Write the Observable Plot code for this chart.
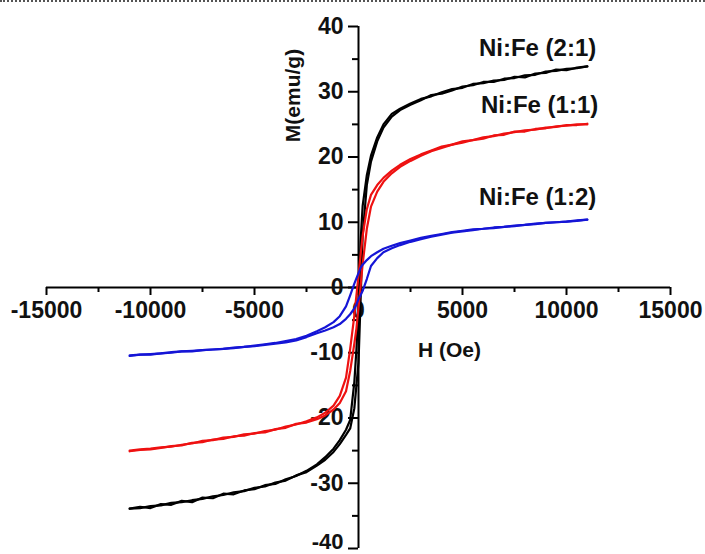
<!DOCTYPE html>
<html><head><meta charset="utf-8">
<script src="https://cdn.jsdelivr.net/npm/d3@7"></script>
<script src="https://cdn.jsdelivr.net/npm/@observablehq/plot@0.6"></script>
<style>
body{margin:0;background:#fff;}
#wrap{position:relative;width:705px;height:554px;overflow:hidden;}
#border{position:absolute;left:0;top:0;width:705px;border-top:2px dotted #555;z-index:2;}
svg{display:block;}
</style></head><body><div id="wrap"><div id="border"></div></div>
<script>
// Applied field H (Oe)
const H = [-11000,-10500,-10000,-9500,-9000,-8500,-8000,-7500,-7000,-6500,-6000,-5500,-5000,-4500,-4000,-3500,-3000,-2500,-2000,
  -1600,-1200,-900,-600,-400,-200,-100,0,100,200,400,600,900,1200,1600,
  2000,2500,3000,3500,4000,4500,5000,5500,6000,6500,7000,7500,8000,8500,9000,9500,10000,10500,11000];

// Ni:Fe (2:1) — descending (upper) and ascending (lower) branches, M (emu/g)
const black21Down = [-33.9,-33.6,-33.8,-33.2,-33.3,-32.7,-32.9,-32.2,-32.3,-31.6,-31.7,-31.1,-30.9,-30.3,-30.1,-29.4,-28.9,-28.1,-27.1,
  -26.0,-24.7,-23.4,-21.8,-20.3,-14.5,-9.5,-3.0,7.0,12.5,17.2,20.2,23.0,25.0,26.6,
  27.4,28.2,28.9,29.3,29.9,30.4,30.6,31.2,31.3,31.7,31.8,32.3,32.2,32.8,32.9,33.4,33.3,33.7,33.9];
const black21Up = [-33.9,-33.8,-33.5,-33.4,-33.0,-32.9,-32.6,-32.4,-32.0,-31.8,-31.4,-31.2,-30.7,-30.5,-29.9,-29.6,-28.8,-28.3,-27.3,
  -26.4,-25.2,-24.0,-22.6,-21.6,-18.5,-15.0,-11.5,-2.0,8.0,15.7,19.3,22.4,24.5,26.2,
  27.2,28.0,28.7,29.5,29.7,30.2,30.8,31.0,31.5,31.5,32.0,32.1,32.5,32.6,33.1,33.2,33.5,33.6,33.9];

// Ni:Fe (1:1)
const red11Down = [-25.0,-24.8,-24.7,-24.5,-24.4,-24.1,-23.9,-23.5,-23.4,-23.0,-22.9,-22.5,-22.4,-22.0,-21.8,-21.3,-21.0,-20.5,-19.9,
  -19.2,-18.1,-16.6,-13.8,-9.4,-4.3,-1.2,1.8,5.0,7.9,12.0,14.2,15.7,16.8,17.9,
  18.8,19.7,20.4,21.0,21.6,21.9,22.4,22.6,23.0,23.2,23.6,23.8,24.1,24.2,24.5,24.6,24.9,24.9,25.1];
const red11Up = [-25.1,-24.9,-24.8,-24.6,-24.3,-24.2,-23.8,-23.7,-23.3,-23.2,-22.8,-22.7,-22.3,-22.2,-21.7,-21.5,-20.9,-20.7,-20.2,
  -19.6,-18.7,-17.7,-15.9,-12.8,-8.6,-6.3,-3.0,0.2,3.6,9.0,12.4,14.7,16.2,17.5,
  18.5,19.4,20.2,20.9,21.4,21.9,22.2,22.6,22.8,23.3,23.4,23.9,23.9,24.3,24.4,24.7,24.8,25.0,25.0];

// Ni:Fe (1:2)
const blue12Down = [-10.4,-10.3,-10.2,-10.1,-9.9,-9.8,-9.7,-9.6,-9.5,-9.4,-9.2,-9.1,-8.9,-8.7,-8.5,-8.2,-7.9,-7.4,-6.7,
  -6.1,-5.3,-4.4,-2.9,-1.2,0.6,1.4,2.2,3.0,3.5,4.2,4.8,5.4,5.95,6.4,
  6.8,7.2,7.6,7.9,8.2,8.5,8.7,8.9,9.0,9.2,9.3,9.5,9.6,9.8,9.9,10.0,10.1,10.3,10.4];
const blue12Up = [-10.5,-10.3,-10.3,-10.1,-10.0,-9.8,-9.8,-9.6,-9.5,-9.4,-9.3,-9.1,-9.0,-8.8,-8.6,-8.4,-8.1,-7.6,-7.0,
  -6.6,-6.1,-5.6,-4.8,-4.1,-3.2,-2.6,-1.8,-1.2,-0.5,1.3,3.3,4.5,5.4,6.0,
  6.5,7.0,7.4,7.8,8.1,8.4,8.6,8.8,9.0,9.1,9.3,9.4,9.6,9.7,9.9,10.0,10.1,10.2,10.4];

const seriesNames = ["Ni:Fe (2:1)", "Ni:Fe (1:1)", "Ni:Fe (1:2)"];
const seriesColors = ["#000000", "#ee1111", "#1515d6"];

// Axis ticks
const xMajor = [-15000,-10000,-5000,0,5000,10000,15000];
const xMinor = [-12500,-7500,-2500,2500,7500,12500];
const yMajor = [-40,-30,-20,-10,0,10,20,30,40];
const yMinor = [-35,-25,-15,-5,5,15,25,35];

const branches = [[black21Down, black21Up], [red11Down, red11Up], [blue12Down, blue12Up]];
const rows = [];
branches.forEach(([down, up], k) => {
  for (let i = H.length - 1; i >= 0; i--) rows.push({s: seriesNames[k], b: "down", H: H[i], M: down[i]});
  for (let i = 0; i < H.length; i++) rows.push({s: seriesNames[k], b: "up", H: H[i], M: up[i]});
});
const ends = branches.map(([down], k) => ({s: seriesNames[k], H: H[H.length - 1], M: down[down.length - 1]}));

const font = "'Liberation Sans', Arial, sans-serif";
const tickFont = 23;

const lineMarks = seriesNames.map((name, k) =>
  Plot.line(rows.filter(d => d.s === name), {x: "H", y: "M", z: "b", stroke: seriesColors[k], strokeWidth: 2.2, curve: "linear"})
);
const labelOffsets = [{dx: 9, dy: -18}, {dx: 11, dy: -18}, {dx: 9, dy: -22}];
const labelMarks = ends.map((e, k) =>
  Plot.text([e], {x: "H", y: "M", text: "s", textAnchor: "end", dx: labelOffsets[k].dx, dy: labelOffsets[k].dy,
    fontSize: 24, fontWeight: "bold", fill: "#111"})
);

const chart = Plot.plot({
  width: 705, height: 554,
  marginLeft: 46, marginRight: 35, marginTop: 26, marginBottom: 6,
  x: {domain: [-15000, 15000], axis: null},
  y: {domain: [-40, 40], axis: null},
  style: {fontFamily: font, background: "white", overflow: "visible"},
  marks: [
    Plot.ruleY([0], {stroke: "#000", strokeWidth: 2}),
    Plot.ruleX([0], {stroke: "#000", strokeWidth: 2}),
    Plot.ruleX(xMajor, {x: d => d, y1: 0, y2: 0, insetBottom: -8, stroke: "#000", strokeWidth: 2}),
    Plot.ruleX(xMinor, {x: d => d, y1: 0, y2: 0, insetBottom: -5, stroke: "#000", strokeWidth: 2}),
    Plot.ruleY(yMajor, {y: d => d, x1: 0, x2: 0, insetLeft: -10, stroke: "#000", strokeWidth: 2}),
    Plot.ruleY(yMinor, {y: d => d, x1: 0, x2: 0, insetLeft: -6, stroke: "#000", strokeWidth: 2}),
    Plot.text(xMajor, {x: d => d, y: 0, text: d => String(d), dy: 23, fontSize: tickFont, fontWeight: "bold", fill: "#111"}),
    Plot.text(yMajor.filter(d => d > -40), {x: 0, y: d => d, text: d => String(d), dx: -15, textAnchor: "end", fontSize: tickFont, fontWeight: "bold", fill: "#111"}),
    Plot.text(yMajor.filter(d => d === -40), {x: 0, y: d => d, text: d => String(d), dx: -15, dy: 0, lineAnchor: "bottom", textAnchor: "end", fontSize: 22, fontWeight: "bold", fill: "#111"}),
    Plot.text(["M(emu/g)"], {frameAnchor: "top-left", dx: 247, dy: 69, rotate: -90, textAnchor: "middle", lineAnchor: "middle", fontSize: 21, fontWeight: "bold", fill: "#111"}),
    Plot.text(["H (Oe)"], {frameAnchor: "top-left", dx: 403, dy: 324, textAnchor: "middle", lineAnchor: "middle", fontSize: 21, fontWeight: "bold", fill: "#111"}),
    ...lineMarks,
    ...labelMarks
  ]
});
document.getElementById("wrap").appendChild(chart);
</script>
</body></html>
